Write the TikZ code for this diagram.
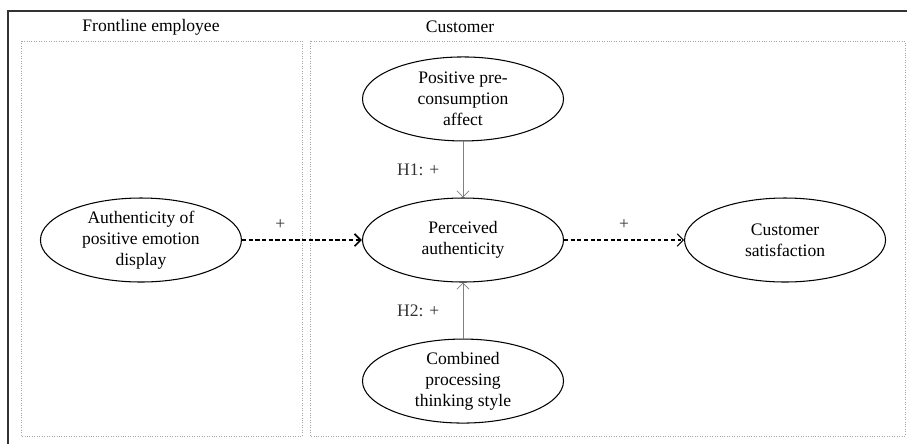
\documentclass[tikz,border=0pt]{standalone}
\usepackage{fontspec}
\setmainfont{Liberation Serif}
\usetikzlibrary{positioning,shapes.geometric,arrows.meta}

\begin{document}
\begin{tikzpicture}[
    construct/.style={ellipse, draw, line width=0.6pt, minimum width=4.02cm, minimum height=1.68cm, inner sep=0pt, align=center, font=\fontsize{10}{12}\selectfont},
    panel/.style={draw=gray!70, densely dotted, line width=0.4pt},
    heading/.style={font=\fontsize{10}{12}\selectfont},
    direct/.style={->, line width=1pt, dash pattern=on 2.4pt off 1.4pt},
    outcome/.style={->, line width=0.6pt, dash pattern=on 2.2pt off 1.6pt},
    moderate/.style={->, draw=gray, line width=0.4pt},
    sign/.style={font=\fontsize{10}{12}\selectfont, text=black!80},
    >={Straight Barb[length=3.5pt, width=7pt]},
    node distance=1.12cm and 2.4cm
]
\useasboundingbox (0,0) rectangle (18.14,-8.88);

% outer frame
\draw[gray!40!black, line width=0.6pt] (0.16,-8.88) -- (0.16,-0.22) -- (18.14,-0.22);

% panels
\draw[panel] (0.42,-0.82) rectangle (6.04,-8.72);
\draw[panel] (6.20,-0.82) rectangle (18.10,-8.72);
\node[heading] (emplabel) at (3.02,-0.54) {Frontline employee};
\node[heading] (custlabel) at (9.20,-0.54) {Customer};

% constructs
\node[construct] (percv) at (9.26,-4.80) {Perceived\\authenticity};
\node[construct, left=of percv] (auth) {Authenticity of\\positive emotion\\display};
\node[construct, right=of percv] (satis) {Customer\\satisfaction};
\node[construct, above=of percv] (affect) {Positive pre-\\consumption\\affect};
\node[construct, below=of percv] (style) {Combined\\processing\\thinking style};

% paths
\draw[direct] (auth) -- node[sign, pos=0.32, above=0.08cm] {+} (percv);
\draw[outcome] (percv) -- node[sign, midway, above=0.08cm] {+} (satis);
\draw[moderate] (affect) -- node[sign, midway, left=0.35cm] {H1: +} (percv);
\draw[moderate] (style) -- node[sign, midway, left=0.35cm] {H2: +} (percv);

\end{tikzpicture}
\end{document}
